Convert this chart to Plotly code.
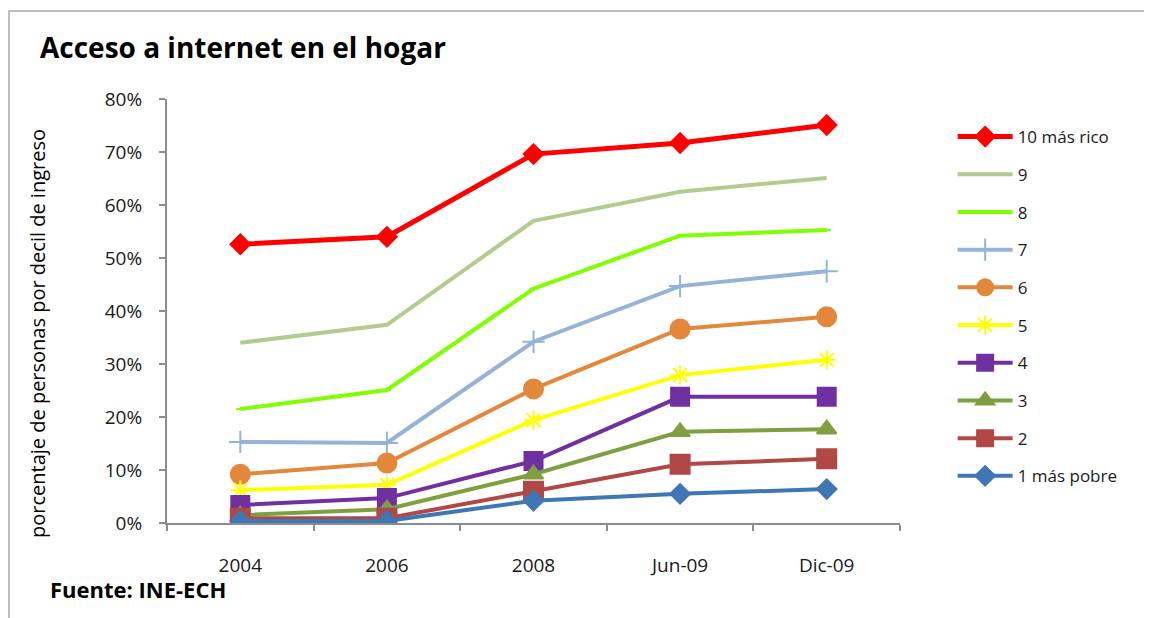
import plotly.graph_objects as go

# 数据
periodos = ["2004", "2006", "2008", "Jun-09", "Dic-09"]

decil_10 = [0.526, 0.540, 0.696, 0.717, 0.751]
decil_9 = [0.340, 0.374, 0.570, 0.625, 0.651]
decil_8 = [0.215, 0.251, 0.442, 0.542, 0.553]
decil_7 = [0.153, 0.151, 0.342, 0.447, 0.475]
decil_6 = [0.092, 0.113, 0.253, 0.366, 0.389]
decil_5 = [0.062, 0.072, 0.194, 0.279, 0.308]
decil_4 = [0.034, 0.047, 0.117, 0.238, 0.238]
decil_3 = [0.015, 0.026, 0.092, 0.172, 0.177]
decil_2 = [0.009, 0.009, 0.060, 0.111, 0.121]
decil_1 = [0.004, 0.004, 0.042, 0.055, 0.064]

# 每条线的样式: 名称, 数据, 颜色, 线宽, 标记, 标记大小
series = [
    ("10 más rico", decil_10, "#FF0000", 5, "diamond", 15),
    ("9", decil_9, "#B3CB8E", 4, None, 0),
    ("8", decil_8, "#80FF00", 4, "line-ew-open", 6),
    ("7", decil_7, "#95B3D7", 4, "cross-thin-open", 16),
    ("6", decil_6, "#E3873B", 4, "circle", 19),
    ("5", decil_5, "#FFFF00", 4, "asterisk-open", 16),
    ("4", decil_4, "#7030A0", 4, "square", 18),
    ("3", decil_3, "#7F9F41", 4, "triangle-up", 17),
    ("2", decil_2, "#B04845", 4, "square", 19),
    ("1 más pobre", decil_1, "#3F76B4", 4, "diamond", 15),
]

fig = go.Figure()

for i, (nombre, valores, color, ancho, simbolo, tam) in enumerate(series):
    if simbolo is None:
        modo = "lines"
        marker = None
    else:
        modo = "lines+markers"
        marker = dict(symbol=simbolo, size=tam, color=color,
                      line=dict(color=color, width=2))
    fig.add_trace(go.Scatter(
        x=periodos, y=valores, name=nombre, mode=modo,
        line=dict(color=color, width=ancho),
        marker=marker, legendgroup=str(i),
    ))

fuente = "'Open Sans', sans-serif"

# 页面本身有 8px 的边距，所以这里的边距都减去 8
fig.update_layout(
    width=1152, height=618,
    margin=dict(l=159, r=260, t=91, b=103),
    paper_bgcolor="white", plot_bgcolor="white",
    font=dict(family=fuente, size=17, color="#1a1a1a"),
    title=dict(text="<b>Acceso a internet en el hogar</b>",
               x=32 / 1152, xanchor="left", y=1 - 40 / 618, yanchor="middle",
               font=dict(size=28, color="black")),
    showlegend=True,
    legend=dict(x=1.08 - 6 / 733, xanchor="left", y=1 - 20 / 424, yanchor="top",
                font=dict(size=17, color="#1a1a1a"), tracegroupgap=12.6,
                itemwidth=55, bgcolor="rgba(0,0,0,0)"),
    xaxis=dict(type="category", range=[-0.5, 4.5], showgrid=False,
               showline=True, linecolor="#8C8C8C", linewidth=2,
               ticks="outside", tickson="boundaries", ticklen=6,
               tickcolor="#8C8C8C", tickwidth=2,
               tickfont=dict(size=19), ticklabelstandoff=24),
    yaxis=dict(range=[0, 0.8], dtick=0.1, tickformat=".0%", showgrid=False,
               zeroline=False, showline=True, linecolor="#8C8C8C", linewidth=2,
               ticks="outside", ticklen=6, tickcolor="#8C8C8C", tickwidth=2,
               tickfont=dict(size=19), ticklabelstandoff=13),
    annotations=[
        dict(text="porcentaje de personas por decil de ingreso",
             xref="paper", yref="paper", x=(37 - 167) / 733, y=(523 - 334) / 424,
             xanchor="center", yanchor="middle",
             textangle=-90, showarrow=False, font=dict(size=20, color="black")),
        dict(text="<b>Fuente: INE-ECH</b>",
             xref="paper", yref="paper", x=(48 - 167) / 733, y=(523 - 589) / 424,
             xanchor="left", yanchor="middle",
             showarrow=False, font=dict(size=22, color="black")),
    ],
    shapes=[
        dict(type="rect", xref="paper", yref="paper",
             x0=(9 - 167) / 733, x1=(1200 - 167) / 733,
             y0=(523 - 700) / 424, y1=(523 - 11) / 424,
             line=dict(color="#BDBDBD", width=2)),
    ],
)

fig.write_html("out.html")
